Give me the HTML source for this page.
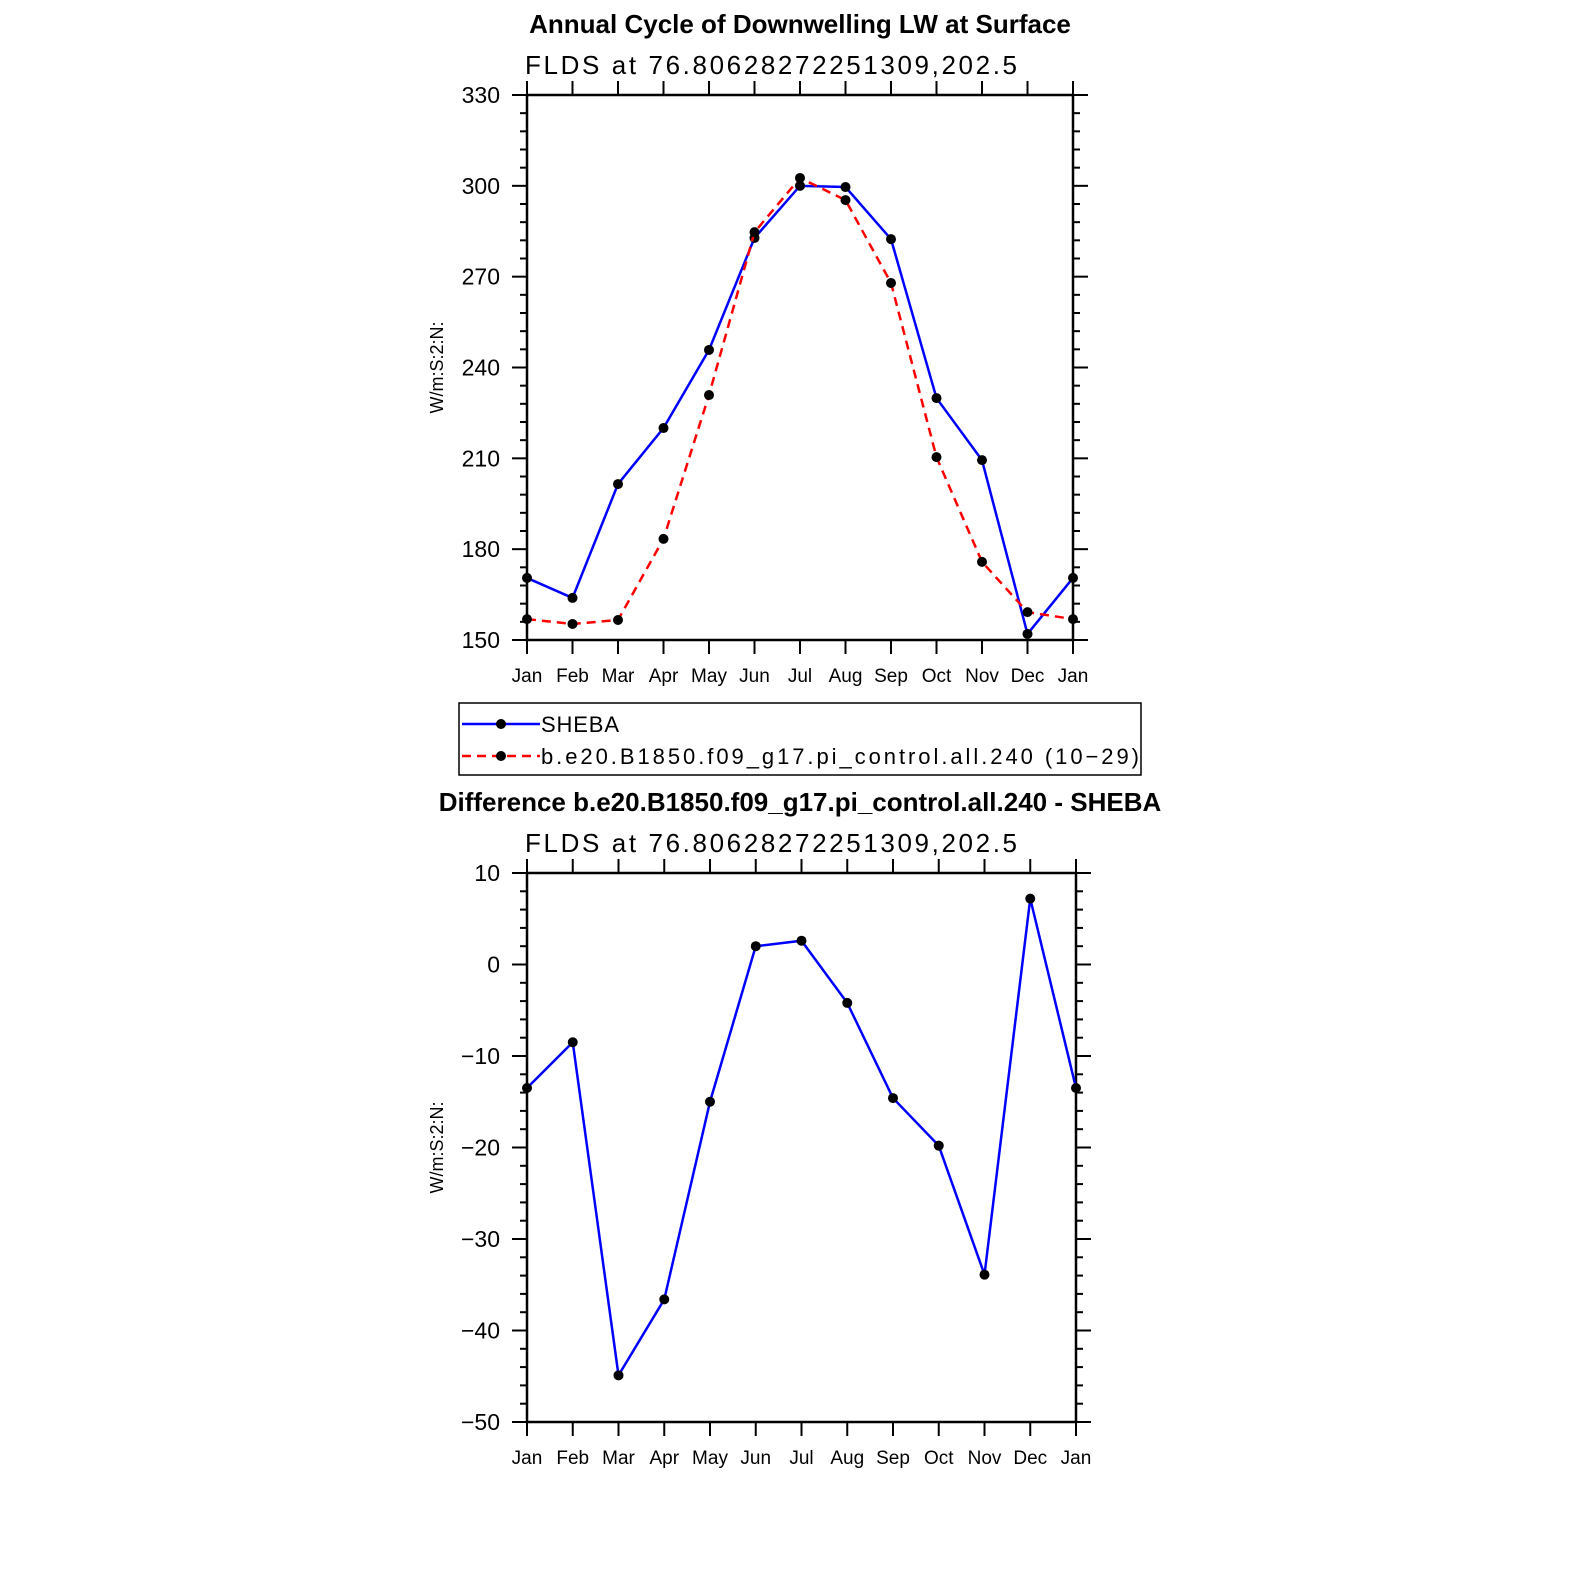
<!DOCTYPE html>
<html><head><meta charset="utf-8"><style>
html,body{margin:0;padding:0;background:#fff;}
svg{display:block;font-family:"Liberation Sans",sans-serif;}
</style></head><body>
<svg id="c" width="1574" height="1574" viewBox="0 0 1574 1574"></svg>
<script>
const months=["Jan","Feb","Mar","Apr","May","Jun","Jul","Aug","Sep","Oct","Nov","Dec","Jan"];
const shebaVals=[170.5,163.9,201.5,220,245.8,282.8,300,299.6,282.4,229.9,209.4,152,170.5];
const modelVals=[156.9,155.3,156.6,183.4,230.9,284.7,302.6,295.3,267.9,210.4,175.8,159.2,156.9];
const diffVals=[-13.5,-8.5,-44.9,-36.6,-15,2,2.6,-4.2,-14.6,-19.8,-33.9,7.2,-13.5];
const topTicks=[150,180,210,240,270,300,330];
const botTicks=[-50,-40,-30,-20,-10,0,10];
const botTickLabels=["\u221250","\u221240","\u221230","\u221220","\u221210","0","10"];
const NS="http://www.w3.org/2000/svg";
const svg=document.getElementById('c');
function el(t,a,p){const e=document.createElementNS(NS,t);for(const k in a)e.setAttribute(k,a[k]);(p||svg).appendChild(e);return e;}
function txt(s,a,p){const e=el('text',a,p);e.textContent=s;return e;}

function panel(o){
  const g=el('g',{});
  
  
  const X=i=>o.x0+(o.x1-o.x0)*i/12;
  const Y=v=>o.y1-(v-o.vmin)*(o.y1-o.y0)/(o.vmax-o.vmin);
  const t=txt(o.title,{x:800,y:o.y0-62,'font-size':26,'font-weight':'bold','text-anchor':'middle'},g);
  
  const st=txt('FLDS  at  76.80628272251309,202.5',{x:o.x0-2,y:o.y0-21,'font-size':26,textLength:492,lengthAdjust:'spacing'},g);
  
  const fr=el('rect',{x:o.x0,y:o.y0,width:o.x1-o.x0,height:o.y1-o.y0,fill:'none',stroke:'#000','stroke-width':2.5},g);
  
  const step=o.ticks[1]-o.ticks[0], ms=step/5;
  for(let v=o.vmin;v<=o.vmax+1e-9;v+=ms){
    const y=Y(v);const major=Math.abs((v-o.vmin)/step-Math.round((v-o.vmin)/step))<1e-6;
    const L=major?15:7;
    el('line',{x1:o.x0-L,x2:o.x0,y1:y,y2:y,stroke:'#000','stroke-width':2},g);
    el('line',{x1:o.x1,x2:o.x1+L,y1:y,y2:y,stroke:'#000','stroke-width':2},g);
  }
  o.ticks.forEach((v,i)=>{
    const l=txt(o.tickLabels[i],{x:o.x0-27,y:Y(v)+8,'font-size':23,'text-anchor':'end'},g);
    
  });
  for(let i=0;i<=12;i++){
    const x=X(i);
    el('line',{x1:x,x2:x,y1:o.y1,y2:o.y1+14,stroke:'#000','stroke-width':2},g);
    el('line',{x1:x,x2:x,y1:o.y0-14,y2:o.y0,stroke:'#000','stroke-width':2},g);
    const l=txt(months[i],{x:x,y:o.y1+42,'font-size':19,'text-anchor':'middle'},g);
    
  }
  const yt=txt('W/m:S:2:N:',{x:0,y:0,'font-size':18,'text-anchor':'middle',transform:`translate(${o.x0-84},${(o.y0+o.y1)/2}) rotate(-90)`},g);
  
  o.series.forEach(s=>{
    const pl=el('polyline',{points:s.vals.map((v,i)=>X(i)+','+Y(v)).join(' '),fill:'none',stroke:s.color,'stroke-width':2.5,'stroke-dasharray':s.dash||'none'},g);
    
    s.vals.forEach((v,i)=>{
      const c=el('circle',{cx:X(i),cy:Y(v),r:5,fill:'#000'},g);
      
    });
  });
}
panel({name:'annual-cycle-panel',title:'Annual Cycle of Downwelling LW at Surface',x0:527,x1:1073,y0:95,y1:640,vmin:150,vmax:330,ticks:topTicks,tickLabels:topTicks.map(String),
 series:[{name:'sheba',vals:shebaVals,color:'#0000ff'},{name:'model',vals:modelVals,color:'#ff0000',dash:'9,6'}]});
panel({name:'difference-panel',title:'Difference b.e20.B1850.f09_g17.pi_control.all.240 - SHEBA',x0:527,x1:1076,y0:873,y1:1422,vmin:-50,vmax:10,ticks:botTicks,tickLabels:botTickLabels,
 series:[{name:'difference',vals:diffVals,color:'#0000ff'}]});
const lg=el('g',{});

el('rect',{x:459,y:703,width:682,height:72,fill:'#fff',stroke:'#000','stroke-width':1.5},lg);
const e1=el('g',{},lg);

el('line',{x1:462,x2:540,y1:724,y2:724,stroke:'#0000ff','stroke-width':2.5},e1);
el('circle',{cx:501,cy:724,r:5,fill:'#000'},e1);
txt('SHEBA',{x:541,y:732,'font-size':22,textLength:78,lengthAdjust:'spacing'},e1);
const e2=el('g',{},lg);

el('line',{x1:462,x2:540,y1:756,y2:756,stroke:'#ff0000','stroke-width':2.5,'stroke-dasharray':'9,6'},e2);
el('circle',{cx:501,cy:756,r:5,fill:'#000'},e2);
txt('b.e20.B1850.f09_g17.pi_control.all.240 (10\u221229)',{x:541,y:764,'font-size':22,textLength:598,lengthAdjust:'spacing'},e2);
</script>
</body></html>
